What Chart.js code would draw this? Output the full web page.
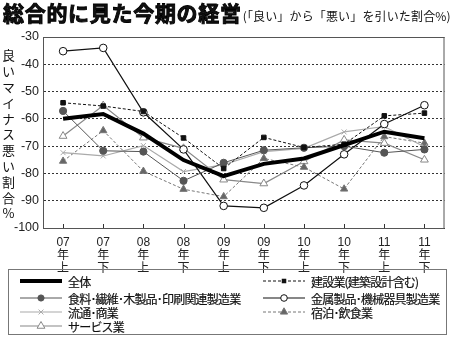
<!DOCTYPE html>
<html><head><meta charset="utf-8">
<script src="https://cdn.jsdelivr.net/npm/chart.js@4"></script>
<style>
body{margin:0;width:450px;height:337px;overflow:hidden;background:#fff;font-family:"Liberation Sans","Noto Sans CJK JP",sans-serif;color:#111;}
#wrap{position:absolute;left:0;top:0;width:450px;height:337px;}
#title{position:absolute;left:3px;top:-3px;white-space:nowrap;font-family:"Noto Sans CJK JP",sans-serif;}
#title .main{font-size:21px;font-weight:700;letter-spacing:0.7px;-webkit-text-stroke:0.9px #000;}
#title .sub{font-size:12px;font-weight:400;margin-left:1px;letter-spacing:0.15px;}
#ytitle{position:absolute;left:1px;top:49px;writing-mode:vertical-rl;text-orientation:upright;font-family:"Noto Sans CJK JP",sans-serif;font-size:13px;letter-spacing:2.8px;line-height:15px;}
#legend{position:absolute;left:8px;top:269px;width:439px;height:66px;border:1px solid #777;box-sizing:border-box;font-family:"Noto Sans CJK JP",sans-serif;font-size:12px;letter-spacing:-0.8px;}
.li{position:absolute;display:flex;align-items:center;height:14px;white-space:nowrap;}
.li svg{margin-right:6px;}
.li span{-webkit-text-stroke:0.2px #111;}
</style></head>
<body>
<div id="wrap"><canvas id="c" width="450" height="337"></canvas></div>
<div id="title"><span class="main">総合的に見た今期の経営</span><span class="sub">(「良い」から「悪い」を引いた割合%)</span></div>
<div id="ytitle">良いマイナス悪い割合%</div>
<div id="legend"></div>
<script>
const years = ["07","07","08","08","09","09","10","10","11","11"];
const halves = ["上","下","上","下","上","下","上","下","上","下"];
const yTicks = [-30,-40,-50,-60,-70,-80,-90,-100];

const seriesNames = ["全体","建設業(建築設計含む)","食料･繊維･木製品･印刷関連製造業","金属製品･機械器具製造業","流通･商業","宿泊･飲食業","サービス業"];
const overall       = [-60.0, -58.2, -65.4, -75.1, -81.0, -76.5, -74.5, -69.6, -64.7, -67.1];
const construction  = [-54.1, -55.3, -57.3, -67.0, -78.2, -66.8, -70.5, -69.3, -58.9, -57.9];
const food          = [-57.1, -71.7, -72.0, -82.7, -76.1, -71.5, -70.6, -70.0, -72.4, -71.2];
const metal         = [-35.2, -34.0, -57.6, -71.2, -91.9, -92.6, -84.4, -73.0, -61.9, -55.0];
const distribution  = [-72.4, -73.6, -69.8, -79.3, -76.8, -72.0, -70.8, -64.8, -62.8, -70.2];
const accommodation = [-75.5, -64.3, -79.2, -85.8, -88.5, -74.5, -77.7, -85.7, -66.5, -68.9];
const service       = [-66.3, -55.1, -66.9, -70.8, -82.3, -83.7, -75.6, -67.7, -68.9, -75.0];

const labels = years.map((y,i)=>[y,"年",halves[i]]);

const styles = [
  {data:overall, color:'#000', width:4, dash:[], point:false, fill:'#000', r:0},
  {data:construction, color:'#111', width:1, dash:[3,2], point:'rect', fill:'#111', r:3.2},
  {data:food, color:'#555', width:1, dash:[], point:'circle', fill:'#555', r:3.6},
  {data:metal, color:'#111', width:1.2, dash:[], point:'circle', fill:'#fff', r:3.8},
  {data:distribution, color:'#aaa', width:1.2, dash:[], point:'crossRot', fill:'#aaa', r:3.5},
  {data:accommodation, color:'#777', width:1, dash:[3,2], point:'triangle', fill:'#666', r:4.2},
  {data:service, color:'#888', width:1.2, dash:[], point:'triangle', fill:'#fff', r:4.5}
];

const datasets = styles.map((s,i)=>({
  label: seriesNames[i],
  data: s.data,
  borderColor: s.color,
  borderWidth: s.width,
  borderDash: s.dash,
  tension: 0,
  fill:false,
  pointStyle: s.point || 'circle',
  pointRadius: s.point ? s.r : 0,
  pointBackgroundColor: s.fill,
  pointBorderColor: s.color,
  pointBorderWidth: 1,
  borderJoinStyle:'miter'
}));

const framePlugin = {
  id:'frame',
  beforeDatasetsDraw(chart){
    const {ctx, chartArea:a} = chart;
    ctx.save();
    ctx.strokeStyle='#555'; ctx.lineWidth=1; ctx.setLineDash([]);
    ctx.strokeRect(a.left+0.5, a.top+0.5, a.right-a.left-1, a.bottom-a.top);
    const xs = chart.scales.x;
    ctx.strokeStyle='#333';
    for(let i=0;i<labels.length;i++){
      const x = Math.round(xs.getPixelForValue(i))+0.5;
      ctx.beginPath(); ctx.moveTo(x,a.bottom); ctx.lineTo(x,a.bottom-4); ctx.stroke();
    }
    ctx.restore();
  }
};

new Chart(document.getElementById('c'), {
  type:'line',
  data:{labels, datasets},
  options:{
    responsive:false, animation:false, devicePixelRatio:1,
    layout:{padding:{top:37,right:4,left:0,bottom:64}},
    plugins:{legend:{display:false}, title:{display:false}, tooltip:{enabled:false}},
    scales:{
      x:{
        offset:true,
        grid:{display:false, drawTicks:false},
        border:{display:true, color:'#333', width:1},
        ticks:{color:'#222', padding:8, font:{size:12, family:'"Liberation Sans","Noto Sans CJK JP",sans-serif', lineHeight:1.1}, maxRotation:0, autoSkip:false},
        afterFit(s){ s.height = 45; }
      },
      y:{
        min:-100, max:-30,
        afterBuildTicks(s){ s.ticks = yTicks.map(v=>({value:v})); },
        grid:{color:'#333', drawTicks:false, lineWidth:1},
        border:{display:true, color:'#333', dash:[2,2]},
        ticks:{color:'#222', padding:4, font:{size:12.5, family:'"Liberation Sans",sans-serif'}},
        afterFit(s){ s.width = 43; }
      }
    }
  },
  plugins:[framePlugin]
});

// HTML legend: left column 全体, 食料, 流通, サービス; right column 建設, 金属, 宿泊
const leg = document.getElementById('legend');
const place = {0:[11,4],2:[11,21],4:[11,35],6:[11,49],1:[254,4],3:[254,21],5:[254,35]};
function marker(s){
  const cx=21, cy=6, r=s.r;
  if(!s.point) return '';
  if(s.point==='circle') return `<circle cx="${cx}" cy="${cy}" r="${r-0.5}" fill="${s.fill}" stroke="${s.color}" stroke-width="1"/>`;
  if(s.point==='rect'){const h=r*Math.SQRT1_2;return `<rect x="${cx-h}" y="${cy-h}" width="${2*h}" height="${2*h}" fill="${s.fill}"/>`;}
  if(s.point==='crossRot'){const h=r*0.7;return `<path d="M${cx-h} ${cy-h}L${cx+h} ${cy+h}M${cx-h} ${cy+h}L${cx+h} ${cy-h}" stroke="${s.color}" stroke-width="1"/>`;}
  if(s.point==='triangle'){const h=r;return `<path d="M${cx} ${cy-h}L${cx+h*0.866} ${cy+h*0.5}L${cx-h*0.866} ${cy+h*0.5}Z" fill="${s.fill}" stroke="${s.color}" stroke-width="1"/>`;}
  return '';
}
styles.forEach((s,i)=>{
  const [x,y]=place[i];
  const d=document.createElement('div');
  d.className='li';
  d.style.left=x+'px'; d.style.top=y+'px';
  const dash = s.dash.length? `stroke-dasharray="${s.dash.join(',')}"`:'';
  d.innerHTML=`<svg width="42" height="12"><line x1="0" y1="6" x2="42" y2="6" stroke="${s.color}" stroke-width="${s.width}" ${dash}/>${marker(s)}</svg><span>${seriesNames[i]}</span>`;
  leg.appendChild(d);
});
</script>
</body></html>
